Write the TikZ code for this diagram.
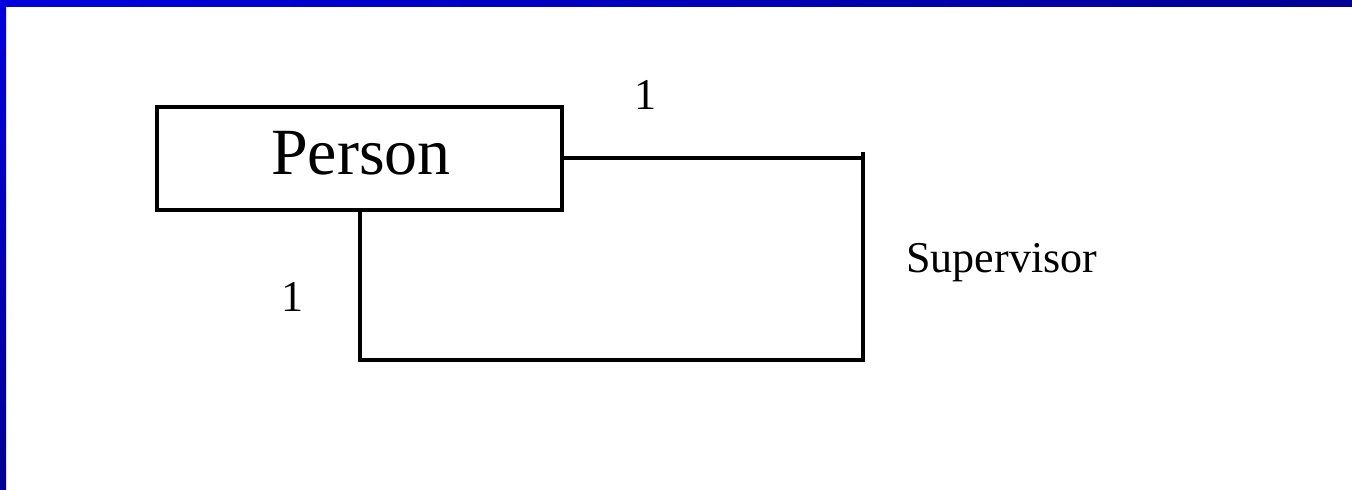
\documentclass[tikz,border=0pt]{standalone}
\usepackage{fontspec}
\setmainfont{Liberation Serif}
\definecolor{barlight}{RGB}{0,0,222}
\definecolor{bardark}{RGB}{0,0,150}
\begin{document}
\begin{tikzpicture}[x=0.5pt,y=-0.5pt,
  link/.style={line width=2pt},
  classbox/.style={draw,line width=2pt,minimum width=202.5pt,minimum height=51.5pt,inner sep=0pt,outer sep=0pt},
  bigtext/.style={font=\fontsize{33}{40}\selectfont,anchor=base,inner sep=0pt},
  smalltext/.style={font=\fontsize{22}{26}\selectfont,anchor=base,inner sep=0pt}]
  % page area with the blue frame along the top and left edges
  \useasboundingbox (0,0) rectangle (1352,490);
  \fill[white] (0,0) rectangle (1352,490);
  \shade[left color=barlight,right color=bardark] (0,0) rectangle (1352,6.5);
  \shade[top color=barlight,bottom color=bardark] (0,0) rectangle (6,490);

  % class box
  \node[classbox] (person) at (359.5,158.5) {};
  \node[bigtext] (ptext) at (361,175) {Person};

  % self association: right arm, drop and return into the bottom of the box
  \coordinate (right) at (863,152);
  \coordinate (corner) at (863,360);
  \draw[link] (person.east) -- (person.east -| right);
  \draw[link] (right) -- (corner) -- (corner -| person.south) -- (person.south);

  % multiplicities and role name
  \node[smalltext] (m1) at (645,110) {1};
  \node[smalltext] (m2) at (292,312) {1};
  \node[smalltext,anchor=base west] (role) at (906,273) {Supervisor};
\end{tikzpicture}
\end{document}
